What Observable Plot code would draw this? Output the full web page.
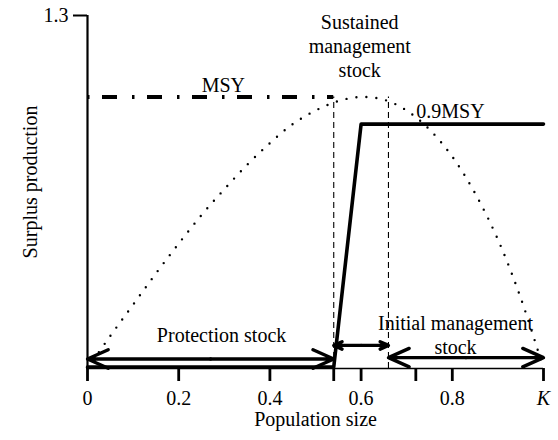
<!DOCTYPE html>
<html><head><meta charset="utf-8">
<script src="https://cdn.jsdelivr.net/npm/d3@7"></script>
<script src="https://cdn.jsdelivr.net/npm/@observablehq/plot@0.6"></script>
<style>
body{margin:0;background:#fff}
svg, svg text { font-family: "Liberation Serif", "DejaVu Serif", "Times New Roman", serif !important; }
</style>
</head><body><div id="chart"></div>
<script>
// axis ticks
const xTicks = [0, 0.2, 0.4, 0.54, 0.6, 0.72, 0.8, 1];
const xTickLabels = ["0", "0.2", "0.4", "", "0.6", "", "0.8", "K"];
const yTicks = [1.3];
const yTickLabels = ["1.3"];

// dotted surplus production curve
const curveX = [0, 0.05, 0.1, 0.15, 0.2, 0.25, 0.3, 0.35, 0.4, 0.45, 0.5, 0.55, 0.6, 0.65, 0.7, 0.75, 0.8, 0.85, 0.9, 0.95, 1.0];
const curveY = [0, 0.12, 0.235, 0.35, 0.46, 0.565, 0.66, 0.75, 0.83, 0.9, 0.95, 0.985, 1.0, 0.99, 0.95, 0.88, 0.78, 0.645, 0.475, 0.26, 0];

// solid harvest rule
const harvestX = [0, 0.54, 0.6, 1];
const harvestY = [0.005, 0.005, 0.9, 0.9];

// MSY level
const msyLevel = [1.0];
const msyStart = 0;
const msyEnd = 0.54;

// dashed boundaries
const boundaryX = [0.54, 0.66];
const boundaryTop = [1.0, 1.0];

// stock ranges (double arrows)
const rangeFrom = [0, 0.54, 0.66];
const rangeTo = [0.54, 0.66, 1];
const rangeY = [0.035, 0.085, 0.04];

// annotations
const noteText = ["MSY", "0.9MSY", "Sustained\nmanagement\nstock", "Protection stock", "Initial management\nstock"];
const noteX = [0.298, 0.796, 0.597, 0.294, 0.807];
const noteY = [1.048, 0.95, 1.19, 0.125, 0.125];

const curve = curveX.map((x, i) => ({x, y: curveY[i]}));
const harvest = harvestX.map((x, i) => ({x, y: harvestY[i]}));
const bounds = boundaryX.map((x, i) => ({x, top: boundaryTop[i]}));
const halves = [];
rangeFrom.forEach((a, i) => {
  const m = (a + rangeTo[i]) / 2;
  halves.push({x1: m, x2: a, y: rangeY[i]});
  halves.push({x1: m, x2: rangeTo[i], y: rangeY[i]});
});
const notes = noteText.map((t, i) => ({t, x: noteX[i], y: noteY[i]}));
const serif = "Liberation Serif";

const plot = Plot.plot({
  width: 558, height: 440,
  marginLeft: 87, marginRight: 15, marginTop: 15, marginBottom: 72,
  x: {domain: [0, 1], axis: null},
  y: {domain: [0, 1.3], axis: null},
  style: {fontSize: "20px", background: "white", color: "black"},
  marks: [
    Plot.line(curve, {x: "x", y: "y", curve: "catmull-rom", stroke: "black", strokeWidth: 2.4, strokeDasharray: "0,10", strokeLinecap: "round"}),
    Plot.ruleY(msyLevel, {x1: msyStart, x2: msyEnd, y: d => d, stroke: "black", strokeWidth: 4, strokeDasharray: "2.5,12.5,15,15"}),
    Plot.ruleX(bounds, {x: "x", y1: 0, y2: "top", stroke: "black", strokeWidth: 1.1, strokeDasharray: "6,4"}),
    Plot.ruleY([0], {x1: 0, x2: 1, stroke: "black", strokeWidth: 1.5}),
    Plot.ruleX([0], {y1: 0, y2: 1.3, stroke: "black", strokeWidth: 2.2}),
    Plot.line(harvest, {x: "x", y: "y", stroke: "black", strokeWidth: 3.6}),
    Plot.arrow(halves, {x1: "x1", x2: "x2", y1: "y", y2: "y", stroke: "black", strokeWidth: 3.4, headLength: 10, headAngle: 48}),
    Plot.axisX(xTicks, {tickSize: 13, tickPadding: 9, strokeWidth: 2.8, tickFormat: (d) => xTickLabels[xTicks.indexOf(d)], label: null, fontSize: 20, fontFamily: serif}),
    Plot.axisY(yTicks, {tickSize: 14, tickPadding: 5, strokeWidth: 2, tickFormat: d => yTickLabels[yTicks.indexOf(d)], label: null, fontSize: 20, fontFamily: serif}),
    Plot.text(notes, {x: "x", y: "y", text: "t", lineHeight: 1.2, fill: "black", fontSize: 20, fontFamily: serif}),
    Plot.text(["Population size"], {frameAnchor: "bottom", dy: 57, text: d => d, fill: "black", fontSize: 20, fontFamily: serif}),
    Plot.text(["Surplus production"], {frameAnchor: "left", textAnchor: "middle", dx: -57, dy: -10, rotate: -90, text: d => d, fill: "black", fontSize: 20, fontFamily: serif})
  ]
});
plot.querySelectorAll("text").forEach(t => { if (t.textContent === "K") t.setAttribute("font-style", "italic"); });
document.getElementById("chart").appendChild(plot);
</script>
</body></html>
